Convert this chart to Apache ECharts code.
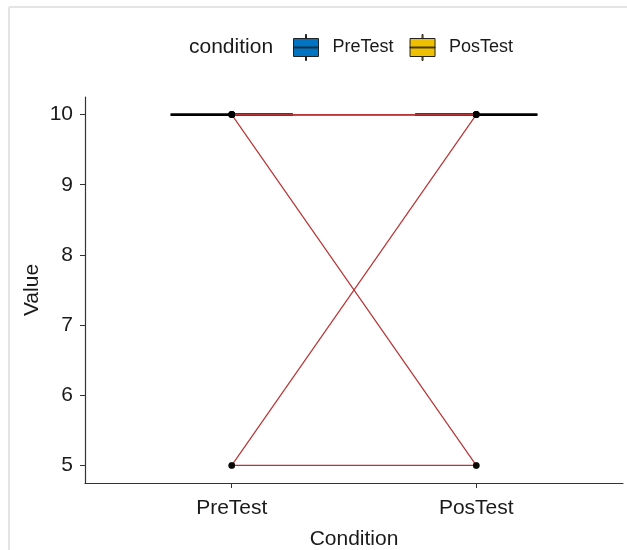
<!DOCTYPE html>
<html>
<head>
<meta charset="utf-8">
<script src="https://cdn.jsdelivr.net/npm/echarts@6/dist/echarts.min.js"></script>
<style>
html,body{margin:0;padding:0;background:#fff;}
#chart{width:627px;height:550px;}
</style>
</head>
<body>
<div id="chart"></div>
<script>
// ---- data ----
var categories = ['PreTest', 'PosTest'];
var preTest  = [10, 10, 10, 10, 10, 10, 10, 5, 5];
var posTest  = [10, 10, 10, 10, 10, 10, 5, 10, 5];
var yTicks   = [5, 6, 7, 8, 9, 10];
var boxColors = ['#0073C2', '#EFC000'];

function quantile(arr, p) {
  var s = arr.slice().sort(function (a, b) { return a - b; });
  var h = (s.length - 1) * p, lo = Math.floor(h), hi = Math.ceil(h);
  return s[lo] + (s[hi] - s[lo]) * (h - lo);
}
function boxStats(arr) {
  var q1 = quantile(arr, 0.25), med = quantile(arr, 0.5), q3 = quantile(arr, 0.75);
  var iqr = q3 - q1;
  var inl = arr.filter(function (v) { return v >= q1 - 1.5 * iqr && v <= q3 + 1.5 * iqr; });
  return [Math.min.apply(null, inl), q1, med, q3, Math.max.apply(null, inl)];
}

var FONT = 'Liberation Sans, Arial, sans-serif';
var groups = [preTest, posTest];
var series = [];

// boxes
groups.forEach(function (g, gi) {
  var st = boxStats(g);
  series.push({
    name: categories[gi],
    type: 'custom',
    z: 2,
    itemStyle: { color: boxColors[gi] },
    data: [[gi + 1].concat(st)],
    renderItem: function (params, api) {
      var x = api.value(0);
      var lo = api.value(1), q1 = api.value(2), md = api.value(3), q3 = api.value(4), hi = api.value(5);
      var pL = api.coord([x - 0.25, q3]);
      var pR = api.coord([x + 0.25, q1]);
      var pC1 = api.coord([x, hi]), pC2 = api.coord([x, q3]);
      var pC3 = api.coord([x, q1]), pC4 = api.coord([x, lo]);
      var mL = api.coord([x - 0.25, md]), mR = api.coord([x + 0.25, md]);
      return {
        type: 'group',
        children: [
          { type: 'line', shape: { x1: pC1[0], y1: pC1[1], x2: pC2[0], y2: pC2[1] }, style: { stroke: '#000', lineWidth: 1 } },
          { type: 'line', shape: { x1: pC3[0], y1: pC3[1], x2: pC4[0], y2: pC4[1] }, style: { stroke: '#000', lineWidth: 1 } },
          { type: 'rect', shape: { x: pL[0], y: pL[1], width: pR[0] - pL[0], height: pR[1] - pL[1] },
            style: { fill: api.visual('color'), stroke: '#000', lineWidth: 1.2 } },
          { type: 'line', shape: { x1: mL[0], y1: mL[1], x2: mR[0], y2: mR[1] }, style: { stroke: '#000', lineWidth: 2.8 } }
        ]
      };
    }
  });
});

// paired lines
for (var i = 0; i < preTest.length; i++) {
  series.push({
    type: 'line',
    z: 3,
    silent: true,
    symbol: 'none',
    lineStyle: { color: '#B83333', width: 1.2 },
    data: [[1, preTest[i]], [2, posTest[i]]]
  });
}

// points
var pts = [];
for (var j = 0; j < preTest.length; j++) {
  pts.push([1, preTest[j]]);
  pts.push([2, posTest[j]]);
}
series.push({
  type: 'scatter',
  z: 4,
  symbolSize: 6.5,
  itemStyle: { color: '#000' },
  data: pts
});

var boxIcon = 'path://M0,4L25,4L25,22L0,22Z M12,0L13,0L13,4L12,4Z M12,22L13,22L13,26L12,26Z M0,12.6L25,12.6L25,13.4L0,13.4Z';

var chart = echarts.init(document.getElementById('chart'));
chart.setOption({
  animation: false,
  backgroundColor: '#fff',
  textStyle: { fontFamily: FONT },
  title: {
    text: 'condition',
    left: 189,
    top: 37,
    padding: 0,
    textStyle: { fontSize: 21, fontWeight: 'normal', color: '#1a1a1a', fontFamily: FONT }
  },
  legend: {
    left: 293,
    top: 34,
    itemWidth: 25,
    itemHeight: 26,
    itemGap: 16,
    padding: 0,
    textStyle: { fontSize: 18, color: '#1a1a1a', padding: [0, 0, 0, 9], fontFamily: FONT },
    data: categories.map(function (c, k) {
      return { name: c, icon: boxIcon, itemStyle: { color: boxColors[k], borderColor: '#222', borderWidth: 1 } };
    })
  },
  graphic: [
    { type: 'line', shape: { x1: 9, y1: 7, x2: 627, y2: 7 }, style: { stroke: '#e4e4e4', lineWidth: 2 } },
    { type: 'line', shape: { x1: 9, y1: 7, x2: 9, y2: 550 }, style: { stroke: '#e4e4e4', lineWidth: 2 } }
  ],
  grid: { left: 85, right: 4, top: 97, bottom: 67, containLabel: false, outerBoundsMode: 'none' },
  xAxis: {
    type: 'value',
    min: 0.4,
    max: 2.6,
    splitLine: { show: false },
    axisLine: { show: true, lineStyle: { color: '#333', width: 1.2 } },
    axisTick: { show: true, length: 5, lineStyle: { color: '#333' }, customValues: [1, 2] },
    axisLabel: {
      customValues: [1, 2],
      margin: 15,
      fontSize: 21,
      color: '#1a1a1a',
      formatter: function (v) { return categories[Math.round(v) - 1] || ''; }
    },
    name: 'Condition',
    nameLocation: 'middle',
    nameGap: 46,
    nameMoveOverlap: false,
    nameTextStyle: { fontSize: 21, color: '#1a1a1a' }
  },
  yAxis: {
    type: 'value',
    min: 4.75,
    max: 10.25,
    splitLine: { show: false },
    axisLine: { show: true, lineStyle: { color: '#333', width: 1.2 } },
    axisTick: { show: true, length: 5, lineStyle: { color: '#333' }, customValues: yTicks },
    axisLabel: {
      customValues: yTicks,
      margin: 12,
      fontSize: 21,
      color: '#1a1a1a'
    },
    name: 'Value',
    nameLocation: 'middle',
    nameRotate: 90,
    nameGap: 42,
    nameMoveOverlap: false,
    nameTextStyle: { fontSize: 21, color: '#1a1a1a' }
  },
  series: series
});
</script>
</body>
</html>
